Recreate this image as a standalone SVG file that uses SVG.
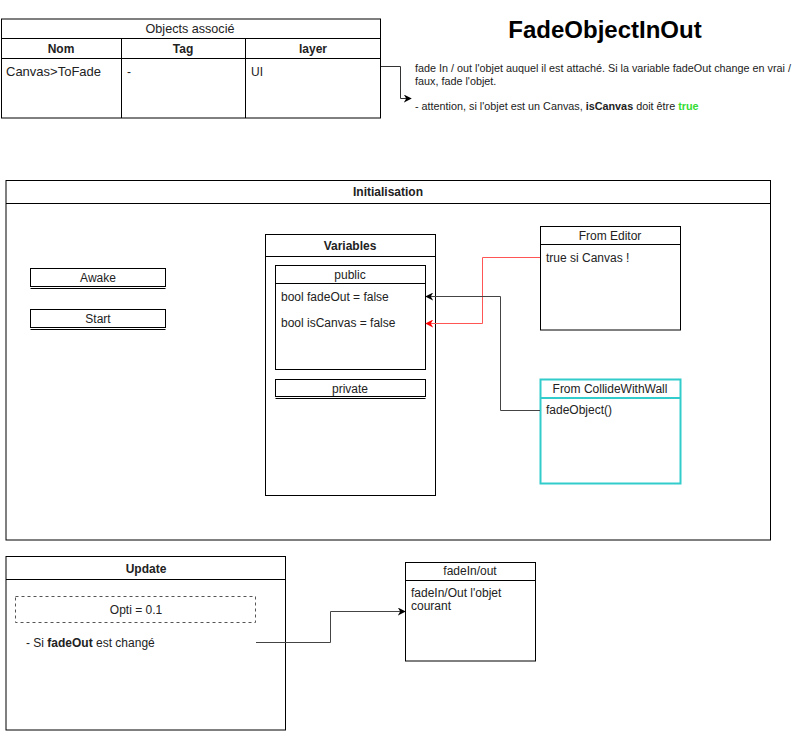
<svg xmlns="http://www.w3.org/2000/svg" width="801" height="731" viewBox="0 0 801 731">
<defs>
<style>
text{font-family:"Liberation Sans",Arial,Helvetica,sans-serif;fill:#222;font-size:12px}
.b{font-weight:bold}
.c{text-anchor:middle}
.box{fill:#fff;stroke:#000;stroke-width:1}
.ln{stroke:#000;stroke-width:1;fill:none}
.small{font-size:10.8px}
.title{font-size:24px;font-weight:bold;fill:#000}
</style>
<marker id="ab" viewBox="0 0 10 10" refX="9" refY="5" markerWidth="8" markerHeight="8" markerUnits="userSpaceOnUse" orient="auto"><path d="M0,0 L10,5 L0,10 L3,5 z" fill="#000"/></marker>
<marker id="ar" viewBox="0 0 10 10" refX="9" refY="5" markerWidth="8" markerHeight="8" markerUnits="userSpaceOnUse" orient="auto"><path d="M0,0 L10,5 L0,10 L3,5 z" fill="#f00"/></marker>
</defs>
<rect width="801" height="731" fill="#fff"/>

<g id="table">
<rect class="box" x="1.5" y="19" width="379" height="99"/>
<line class="ln" x1="1.5" y1="38.5" x2="380.5" y2="38.5"/>
<line class="ln" x1="1.5" y1="58.5" x2="380.5" y2="58.5"/>
<line class="ln" x1="121.5" y1="38.5" x2="121.5" y2="118"/>
<line class="ln" x1="245.5" y1="38.5" x2="245.5" y2="118"/>
<text class="c" x="190" y="33" style="font-size:12.6px">Objects associé</text>
<text class="c b" x="61" y="53">Nom</text>
<text class="c b" x="183" y="53">Tag</text>
<text class="c b" x="313" y="53">layer</text>
<text x="6" y="76" style="font-size:13px">Canvas&gt;ToFade</text>
<text x="127" y="76">-</text>
<text x="251" y="76">UI</text>
</g>

<g id="header">
<text class="title c" x="605" y="38">FadeObjectInOut</text>
<text class="small" x="415" y="72">fade In / out l'objet auquel il est attaché. Si la variable fadeOut change en vrai /</text>
<text class="small" x="415" y="85">faux, fade l'objet.</text>
<text class="small" x="415" y="110">- attention, si l'objet est un Canvas, <tspan class="b">isCanvas</tspan> doit être <tspan class="b" style="fill:#3d3">true</tspan></text>
</g>

<g id="initialisation">
<rect class="box" x="6" y="180.5" width="764.5" height="359.5"/>
<line class="ln" x1="6" y1="203.5" x2="770.5" y2="203.5"/>
<text class="c b" x="388" y="196">Initialisation</text>
</g>

<g id="awake">
<rect class="box" x="30.5" y="268.5" width="135" height="18"/>
<line class="ln" x1="30.5" y1="288.5" x2="165.5" y2="288.5"/>
<text class="c" x="98" y="282">Awake</text>
</g>

<g id="start">
<rect class="box" x="30.5" y="309.5" width="135" height="18"/>
<line class="ln" x1="30.5" y1="329.5" x2="165.5" y2="329.5"/>
<text class="c" x="98" y="323">Start</text>
</g>

<g id="variables">
<rect class="box" x="265.5" y="234.5" width="170" height="261"/>
<line class="ln" x1="265.5" y1="256.5" x2="435.5" y2="256.5"/>
<text class="c b" x="350" y="250">Variables</text>
</g>

<g id="public">
<rect class="box" x="275.5" y="265.5" width="150" height="104"/>
<line class="ln" x1="275.5" y1="283.5" x2="425.5" y2="283.5"/>
<text class="c" x="350" y="279">public</text>
<text x="281" y="301">bool fadeOut = false</text>
<text x="281" y="327">bool isCanvas = false</text>
</g>

<g id="private">
<rect class="box" x="275.5" y="379.5" width="150" height="17"/>
<line class="ln" x1="275.5" y1="398.5" x2="425.5" y2="398.5"/>
<text class="c" x="350" y="393">private</text>
</g>

<g id="fromEditor">
<rect class="box" x="540.5" y="226.5" width="140" height="103.5"/>
<line class="ln" x1="540.5" y1="244.5" x2="680.5" y2="244.5"/>
<text class="c" x="610" y="240">From Editor</text>
<text x="546" y="262">true si Canvas !</text>
</g>

<g id="fromCollide">
<rect x="540.5" y="379.5" width="140" height="104" fill="#fff" stroke="#3cc" stroke-width="2"/>
<line x1="540.5" y1="398" x2="680.5" y2="398" stroke="#3cc" stroke-width="2"/>
<text class="c" x="610" y="393">From CollideWithWall</text>
<text x="546" y="414">fadeObject()</text>
</g>

<g id="update">
<rect class="box" x="6" y="556.5" width="279.5" height="173.5"/>
<line class="ln" x1="6" y1="579.5" x2="285.5" y2="579.5"/>
<text class="c b" x="146" y="573">Update</text>
<rect x="15.5" y="596.5" width="240" height="26" fill="none" stroke="#555" stroke-width="1" stroke-dasharray="3,3"/>
<text class="c" x="136" y="614">Opti = 0.1</text>
<text x="26" y="647">- Si <tspan class="b">fadeOut</tspan> est changé</text>
</g>

<g id="fadeInOut">
<rect class="box" x="405.5" y="562.5" width="130" height="98.5"/>
<line class="ln" x1="405.5" y1="580.5" x2="535.5" y2="580.5"/>
<text class="c" x="470" y="575">fadeIn/out</text>
<text x="411" y="597">fadeIn/Out l'objet</text>
<text x="411" y="610">courant</text>
</g>

<g id="connectors" fill="none">
<path d="M381,66.5 H400.5 V98.5 H411" stroke="#333" stroke-width="1" marker-end="url(#ab)"/>
<path d="M540,257.5 H482.5 V323.5 H426" stroke="#f55" stroke-width="1" marker-end="url(#ar)"/>
<path d="M540,410.5 H500.5 V296.5 H426" stroke="#444" stroke-width="1" marker-end="url(#ab)"/>
<path d="M256,642.5 H330.5 V611.5 H405" stroke="#444" stroke-width="1" marker-end="url(#ab)"/>
</g>
</svg>
